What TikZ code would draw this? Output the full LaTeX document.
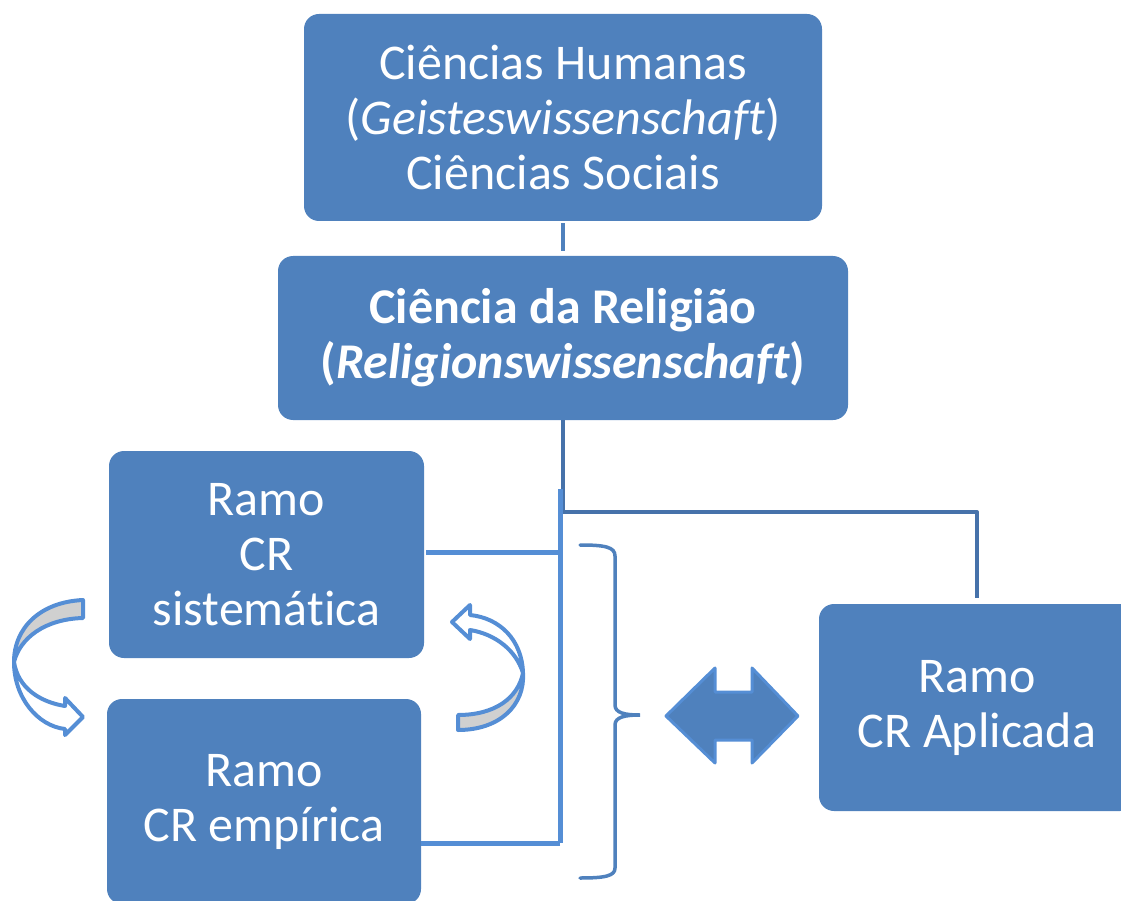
\documentclass[tikz,border=0pt]{standalone}
\usepackage{fontspec}
\setmainfont{Carlito}[Ligatures={NoCommon}]
\definecolor{boxblue}{HTML}{4F81BD}
\definecolor{lightline}{HTML}{558ED5}
\definecolor{darkline}{HTML}{4672AA}
\definecolor{bandgray}{HTML}{D0D0D0}
\begin{document}
\begin{tikzpicture}[x=1pt,y=-1pt,
  box/.style={fill=boxblue, rounded corners=15pt, text=white, align=center,
    inner sep=0pt, font=\fontsize{50}{55}\selectfont},
  darkconn/.style={draw=darkline, line width=4pt},
  lightconn/.style={draw=lightline, line width=5pt},
  curvarrow/.style={draw=lightline, line width=4pt, line join=round}]
\useasboundingbox (0,0) rectangle (1121,901);
\clip (0,0) rectangle (1121,901);
% boxes
\node[box, minimum width=518pt, minimum height=207pt] (hum) at (563,117.5)
  {Ciências Humanas\\(\textit{Geisteswissenschaft})\\Ciências Sociais};
\node[box, minimum width=570pt, minimum height=164pt, font=\fontsize{50}{55}\selectfont\bfseries] (cr) at (563,338)
  {Ciência da Religião\\(\textit{Religionswissenschaft})};
\node[box, minimum width=315pt, minimum height=207pt] (sis) at (266.5,554.5)
  {Ramo\\CR\\sistemática};
\node[box, minimum width=314pt, minimum height=205pt] (emp) at (264,801.5)
  {Ramo\\CR empírica};
\node[box, minimum width=316pt, minimum height=207pt] (apl) at (977,707.5)
  {Ramo\\CR Aplicada};
% connectors
\draw[draw=boxblue, line width=4pt, shorten <=2pt, shorten >=5pt] (hum.south) -- (cr.south |- cr.north);
\coordinate (jd) at (563,512);
\draw[darkconn, line join=round] (cr.south) -- (jd) -| ([yshift=6pt]apl.north);
\coordinate (jt) at (560,489);
\coordinate (jb) at (560,843);
\draw[lightconn] (jt) -- (jb);
\draw[lightconn] ([xshift=2pt]sis.east |- 0,552) -- (jt |- 0,552);
\draw[lightconn, line join=miter] (jt |- 0,843) -- (emp.east |- 0,843);
% brace
\draw[draw=boxblue, line width=3.5pt, line cap=round]
  (580,545) .. controls (605,545) and (615,547) .. (615,556)
  -- (615,705) .. controls (615,713) and (625,715) .. (640,715)
  .. controls (625,715) and (615,717) .. (615,725)
  -- (615,868) .. controls (615,876) and (605,878) .. (580,878);
% double arrow
\draw[fill=boxblue, draw=lightline, line width=3pt, line join=round]
  (666,716) -- (715,668) -- (715,692) -- (752,692) -- (752,668) -- (798,716)
  -- (752,763) -- (752,740) -- (715,740) -- (715,763) -- cycle;
% left curved arrow
\draw[curvarrow, fill=bandgray]
  (83,600) .. controls (40,602) and (14,628) .. (14,662)
  .. controls (20,638) and (45,619) .. (83,618) -- cycle;
\draw[curvarrow, fill=white]
  (14,662) .. controls (14,698) and (38,726) .. (65,729)
  -- (65,735) -- (83,717) -- (65,698) -- (65,706)
  .. controls (40,702) and (18,688) .. (14,662) -- cycle;
% right curved arrow
\draw[curvarrow, fill=white]
  (523,673) .. controls (522,640) and (500,618) .. (470,615)
  -- (470,605) -- (452,622) -- (470,639) -- (470,630)
  .. controls (495,634) and (516,650) .. (523,673) -- cycle;
\draw[curvarrow, fill=bandgray]
  (523,673) .. controls (518,698) and (495,715) .. (458,715)
  -- (458,730) .. controls (500,730) and (525,705) .. (523,673) -- cycle;
\end{tikzpicture}
\end{document}
